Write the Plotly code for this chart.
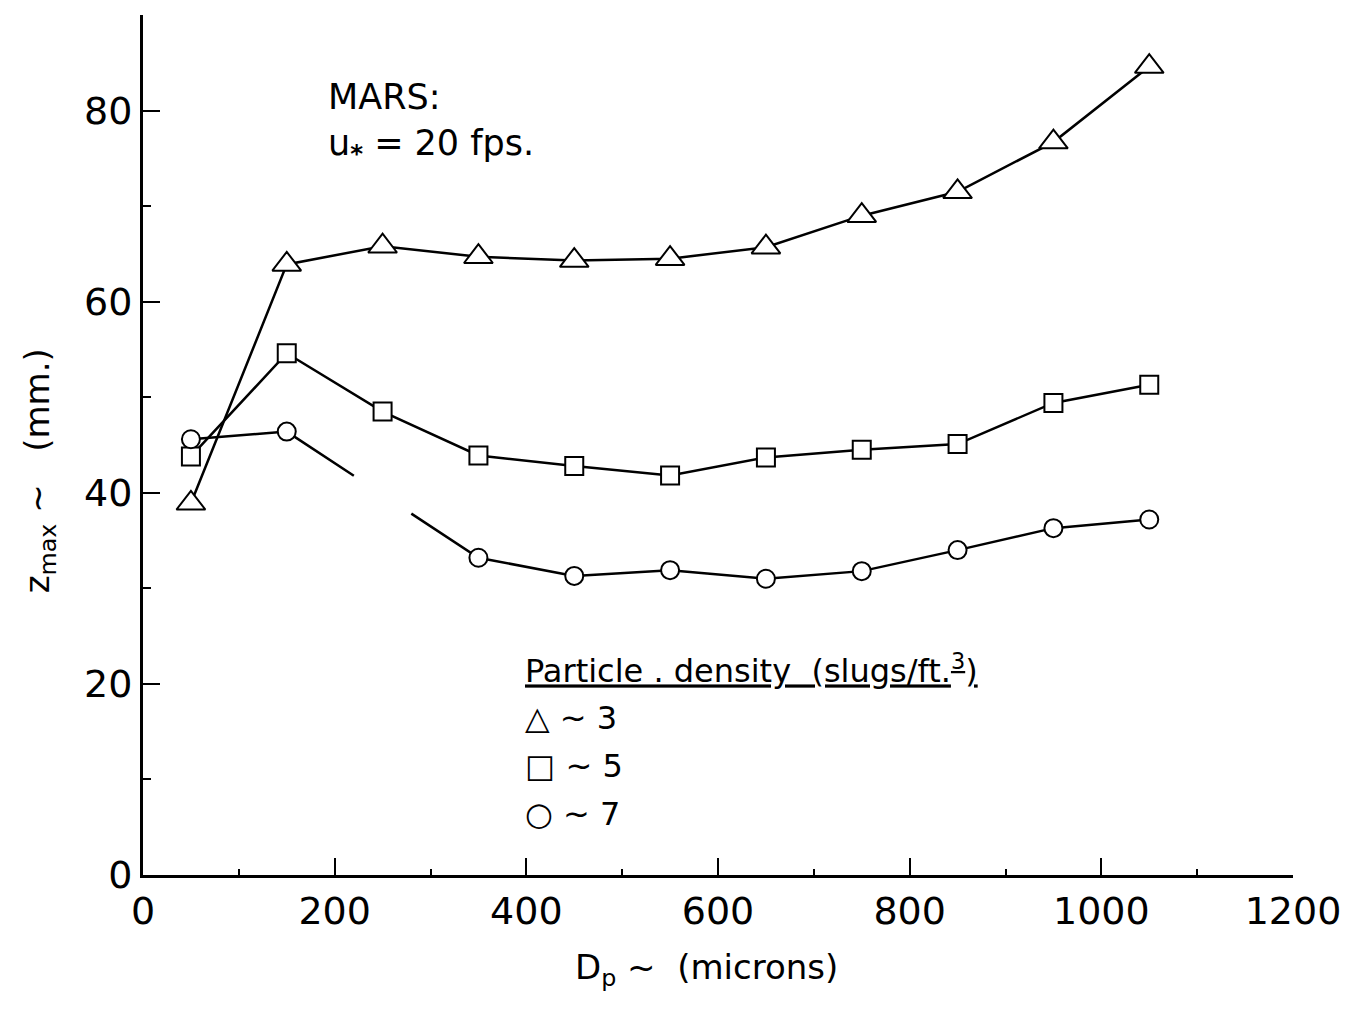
import plotly.graph_objects as go

FONT_FAMILY = "DejaVu Sans"

# particle diameter (microns)
DP = [50, 150, 250, 350, 450, 550, 650, 750, 850, 950, 1050]

# z_max (mm) for each particle density
Z_RHO3 = [38.9, 63.9, 65.8, 64.7, 64.3, 64.5, 65.7, 69.0, 71.5, 76.7, 84.6]
Z_RHO5 = [43.8, 54.6, 48.5, 43.9, 42.8, 41.8, 43.7, 44.5, 45.1, 49.4, 51.3]
Z_RHO7 = [45.6, 46.4, None, 33.2, 31.3, 31.9, 31.0, 31.8, 34.0, 36.3, 37.2]

X_TICKS = [0, 200, 400, 600, 800, 1000, 1200]
Y_TICKS = [0, 20, 40, 60, 80]

LEGEND_ROWS = ["\u25b3 ~ 3", "\u25a1 ~ 5", "\u25cb ~ 7"]

# where the pen stops/restarts across the missing point
GAP = (0.35, 0.65)


def broken_line(x, y):
    # bridge a missing value with a line that has a hole in the middle
    xs, ys = [], []
    for i, v in enumerate(y):
        if v is not None:
            xs.append(x[i])
            ys.append(v)
            continue
        x0, y0, x1, y1 = x[i - 1], y[i - 1], x[i + 1], y[i + 1]
        a, b = GAP
        xs += [x0 + a * (x1 - x0), None, x0 + b * (x1 - x0)]
        ys += [y0 + a * (y1 - y0), None, y0 + b * (y1 - y0)]
    return xs, ys


def main():
    fig = go.Figure()
    line = dict(color="black", width=2.5)

    fig.add_trace(go.Scatter(x=DP, y=Z_RHO3, mode="lines", line=line))
    fig.add_trace(go.Scatter(x=DP, y=Z_RHO5, mode="lines", line=line))
    cx, cy = broken_line(DP, Z_RHO7)
    fig.add_trace(go.Scatter(x=cx, y=cy, mode="lines", line=line, connectgaps=False))

    for ys, sym, size in [(Z_RHO3, "triangle-up", 25), (Z_RHO5, "square", 18), (Z_RHO7, "circle", 18)]:
        fig.add_trace(go.Scatter(
            x=DP, y=ys, mode="markers",
            marker=dict(symbol=sym, size=size, color="white",
                        line=dict(color="black", width=2))))

    axis_common = dict(
        showline=True, linecolor="black", linewidth=3, showgrid=False, zeroline=False,
        ticks="inside", tickcolor="black", tickwidth=2, ticklen=17,
        tickfont=dict(family=FONT_FAMILY, size=38, color="black"),
        mirror=False,
    )

    # page body adds 8px on the left/top, so the figure is a bit smaller
    fig.update_layout(
        width=1340, height=1002,
        paper_bgcolor="white", plot_bgcolor="white",
        showlegend=False,
        margin=dict(l=135, r=52, t=7, b=135),
        font=dict(family=FONT_FAMILY, color="black"),
        xaxis=dict(range=[0, 1200], tickvals=X_TICKS,
                   minor=dict(dtick=100, ticks="inside", ticklen=6, tickcolor="black", tickwidth=2),
                   **axis_common),
        yaxis=dict(range=[0, 90], tickvals=Y_TICKS,
                   minor=dict(dtick=10, ticks="inside", ticklen=8, tickcolor="black", tickwidth=2),
                   **axis_common),
    )

    fig.add_annotation(
        text="D<sub>p</sub> ~  (microns)", xref="paper", yref="paper",
        x=0.49, y=-0.11, xanchor="center", yanchor="middle", showarrow=False,
        font=dict(size=34))
    fig.add_annotation(
        text="z<sub>max</sub> ~   (mm.)", xref="paper", yref="paper",
        x=-0.09, y=0.47, xanchor="center", yanchor="middle", showarrow=False,
        textangle=-90, font=dict(size=34))

    fig.add_annotation(
        text="MARS:<br>u<sub><b>*</b></sub> = 20 fps.", xref="paper", yref="paper",
        x=0.159, y=0.93, xanchor="left", yanchor="top", align="left", showarrow=False,
        font=dict(size=35))

    fig.add_annotation(
        text="<u>Particle . density  (slugs/ft.<sup>3</sup>)</u>", xref="paper", yref="paper",
        x=0.33, y=0.24, xanchor="left", yanchor="middle", showarrow=False,
        font=dict(size=32))
    for i, row in enumerate(LEGEND_ROWS):
        fig.add_annotation(
            text=row, xref="paper", yref="paper",
            x=0.33, y=0.183 - i * 0.056, xanchor="left", yanchor="middle", showarrow=False,
            font=dict(size=32))

    fig.write_html("out.html")


if __name__ == '__main__':
    main()
